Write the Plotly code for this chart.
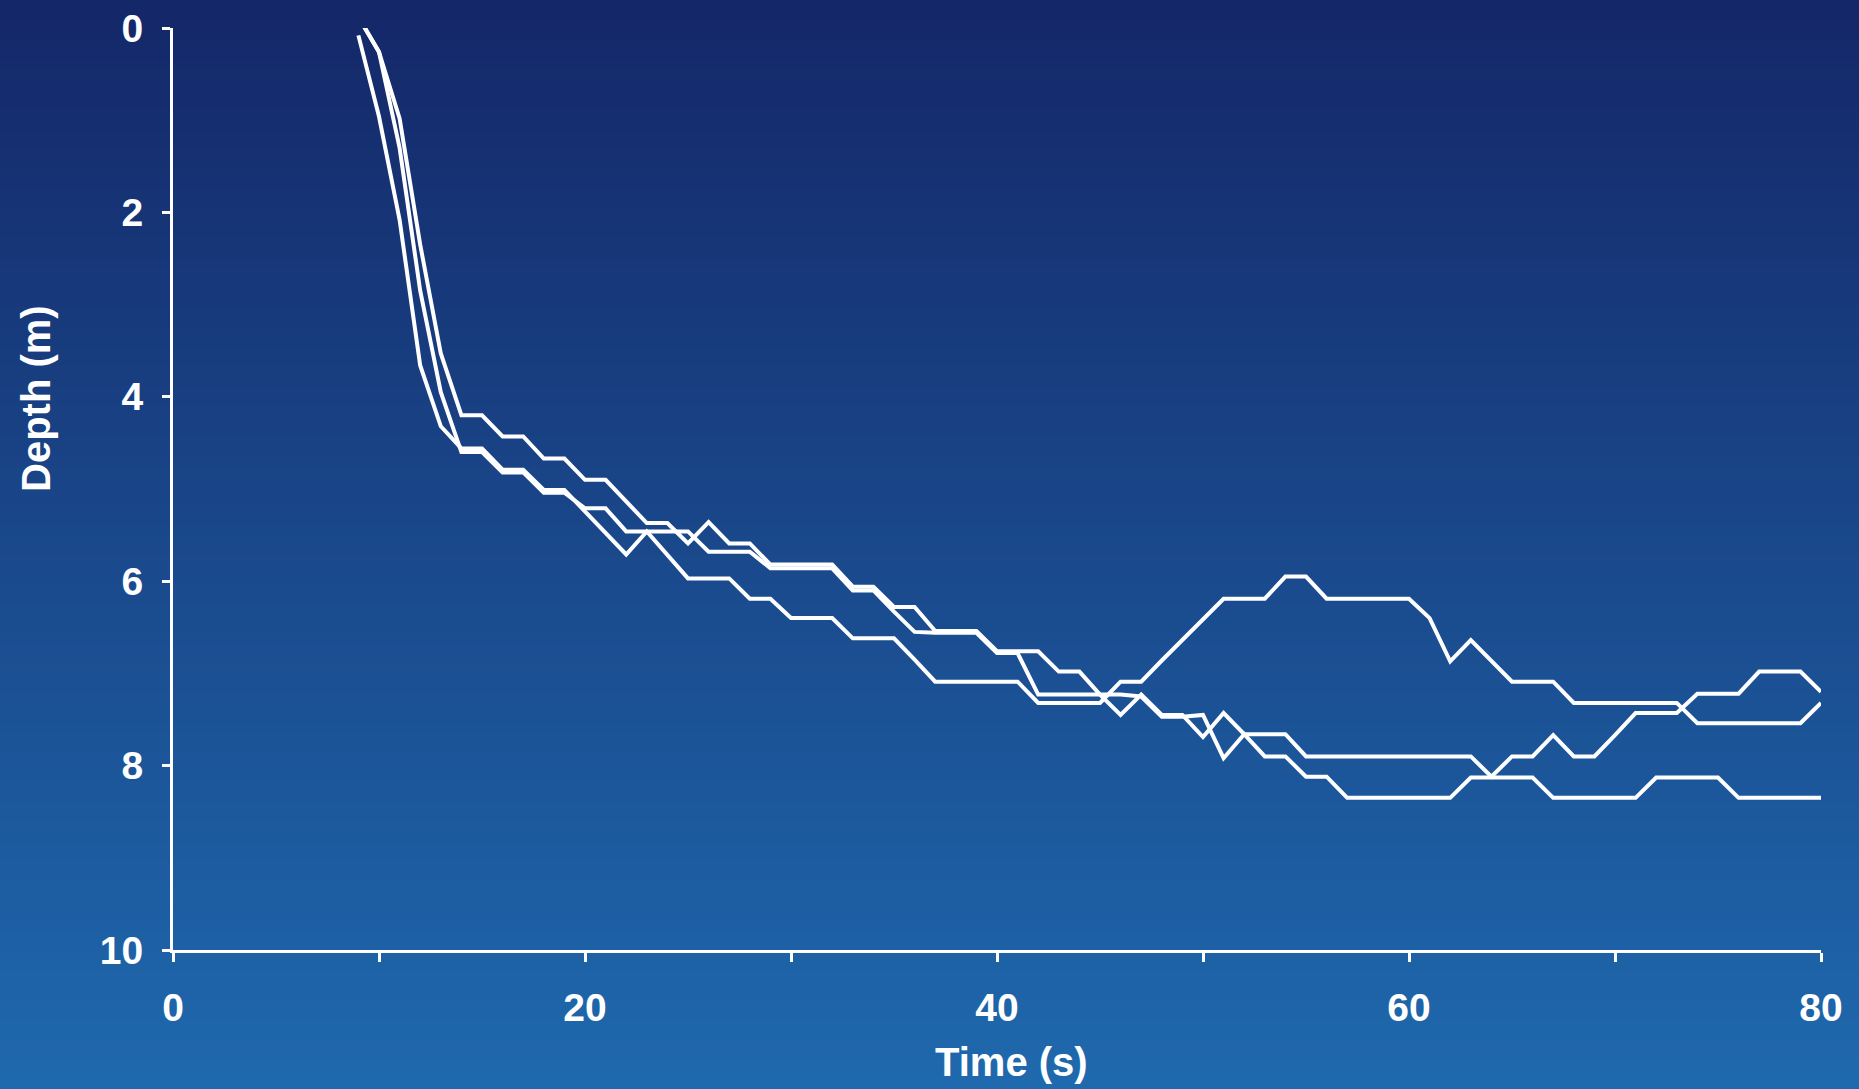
import plotly.graph_objects as go

# ---- data ----
time_s = [9, 10, 11, 12, 13, 14, 15, 16, 17, 18,
          19, 20, 21, 22, 23, 24, 25, 26, 27, 28,
          29, 30, 31, 32, 33, 34, 35, 36, 37, 38,
          39, 40, 41, 42, 43, 44, 45, 46, 47, 48,
          49, 50, 51, 52, 53, 54, 55, 56, 57, 58,
          59, 60, 61, 62, 63, 64, 65, 66, 67, 68,
          69, 70, 71, 72, 73, 74, 75, 76, 77, 78,
          79, 80]

depth_a = [0.08, 0.96, 2.08, 3.66, 4.32, 4.56, 4.56, 4.79, 4.79, 5.01,
           5.01, 5.24, 5.48, 5.71, 5.46, 5.71, 5.97, 5.97, 5.97, 6.19,
           6.19, 6.40, 6.40, 6.40, 6.62, 6.62, 6.62, 6.85, 7.09, 7.09,
           7.09, 7.09, 7.09, 7.32, 7.32, 7.32, 7.32, 7.09, 7.09, 6.86,
           6.64, 6.41, 6.19, 6.19, 6.19, 5.95, 5.95, 6.19, 6.19, 6.19,
           6.19, 6.19, 6.40, 6.87, 6.64, 6.87, 7.09, 7.09, 7.09, 7.32,
           7.32, 7.32, 7.32, 7.32, 7.32, 7.54, 7.54, 7.54, 7.54, 7.54,
           7.54, 7.32]

depth_b = [-0.12, 0.26, 0.98, 2.35, 3.53, 4.20, 4.20, 4.43, 4.43, 4.67,
           4.67, 4.90, 4.90, 5.13, 5.37, 5.37, 5.59, 5.36, 5.59, 5.59,
           5.82, 5.82, 5.82, 5.82, 6.06, 6.06, 6.28, 6.28, 6.54, 6.54,
           6.54, 6.76, 6.76, 6.76, 6.98, 6.98, 7.23, 7.45, 7.23, 7.45,
           7.45, 7.69, 7.43, 7.66, 7.66, 7.66, 7.90, 7.90, 7.90, 7.90,
           7.90, 7.90, 7.90, 7.90, 7.90, 8.12, 7.90, 7.90, 7.67, 7.90,
           7.90, 7.67, 7.43, 7.43, 7.43, 7.22, 7.22, 7.22, 6.98, 6.98,
           6.98, 7.20]

depth_c = [-0.12, 0.26, 1.30, 2.85, 3.95, 4.60, 4.60, 4.82, 4.82, 5.04,
           5.04, 5.21, 5.21, 5.46, 5.46, 5.46, 5.46, 5.68, 5.68, 5.68,
           5.86, 5.86, 5.86, 5.86, 6.10, 6.10, 6.33, 6.55, 6.56, 6.56,
           6.56, 6.78, 6.78, 7.23, 7.23, 7.23, 7.23, 7.23, 7.25, 7.47,
           7.47, 7.45, 7.92, 7.66, 7.90, 7.90, 8.12, 8.12, 8.35, 8.35,
           8.35, 8.35, 8.35, 8.35, 8.13, 8.13, 8.13, 8.13, 8.35, 8.35,
           8.35, 8.35, 8.35, 8.13, 8.13, 8.13, 8.13, 8.35, 8.35, 8.35,
           8.35, 8.35]

series = [depth_a, depth_b, depth_c]

x_ticks = [0, 20, 40, 60, 80]
y_ticks = [0, 2, 4, 6, 8, 10]
x_title = "Time (s)"
y_title = "Depth (m)"

# ---- figure ----
W, H = 1859, 1089
ML, MR, MT, MB = 173, 38, 28, 139
FONT = "Liberation Sans, Arial, sans-serif"

fig = go.Figure()
for d in series:
    fig.add_trace(go.Scatter(x=time_s, y=d, mode="lines",
                             line=dict(color="white", width=4),
                             hoverinfo="skip", showlegend=False))

# vertical gradient background built from thin bands
top = (0x14, 0x27, 0x68)
bot = (0x1f, 0x69, 0xae)
pw = W - ML - MR
ph = H - MT - MB
shapes = []
n = 110
for i in range(n):
    f = (i + 0.5) / n
    c = tuple(round(top[k] + (bot[k] - top[k]) * f) for k in range(3))
    y0px = H * i / n
    y1px = H * (i + 1) / n + 1
    shapes.append(dict(type="rect", xref="paper", yref="paper",
                       x0=-ML / pw - 0.01, x1=1 + MR / pw + 0.01,
                       y0=(H - MB - y0px) / ph, y1=(H - MB - y1px) / ph,
                       fillcolor="rgb(%d,%d,%d)" % c, line=dict(width=0),
                       layer="below"))

axis_common = dict(showgrid=False, zeroline=False, showline=True,
                   linecolor="white", linewidth=3, ticks="outside",
                   tickcolor="white", tickwidth=3, automargin=False,
                   tickfont=dict(family=FONT, size=39, color="white", weight="bold"))

fig.update_xaxes(range=[0, 80], tickvals=x_ticks, ticklen=9,
                 ticklabelstandoff=12,
                 minor=dict(dtick=10, tick0=0, ticks="outside", ticklen=9,
                            tickwidth=3, tickcolor="white", showgrid=False),
                 **axis_common)
fig.update_yaxes(range=[10, 0], tickvals=y_ticks, ticklen=8,
                 ticklabelstandoff=11, **axis_common)

annotations = [
    dict(text=x_title, xref="paper", yref="paper",
         x=(1011 - ML) / pw, y=(H - MB - 1062) / ph,
         xanchor="center", yanchor="middle", showarrow=False,
         font=dict(family=FONT, size=40, color="white", weight="bold")),
    dict(text=y_title, xref="paper", yref="paper", textangle=-90,
         x=(36 - ML) / pw, y=(H - MB - 399) / ph,
         xanchor="center", yanchor="middle", showarrow=False,
         font=dict(family=FONT, size=40, color="white", weight="bold")),
]

fig.update_layout(width=W, height=H, template="none",
                  margin=dict(l=ML, r=MR, t=MT, b=MB, pad=0),
                  paper_bgcolor="rgb(27,72,138)",
                  plot_bgcolor="rgba(0,0,0,0)",
                  shapes=shapes, annotations=annotations,
                  showlegend=False)

fig.write_html("out.html",
               config={"displayModeBar": False},
               post_script="document.body.style.margin='0px';"
                           "document.body.style.overflow='hidden';")
